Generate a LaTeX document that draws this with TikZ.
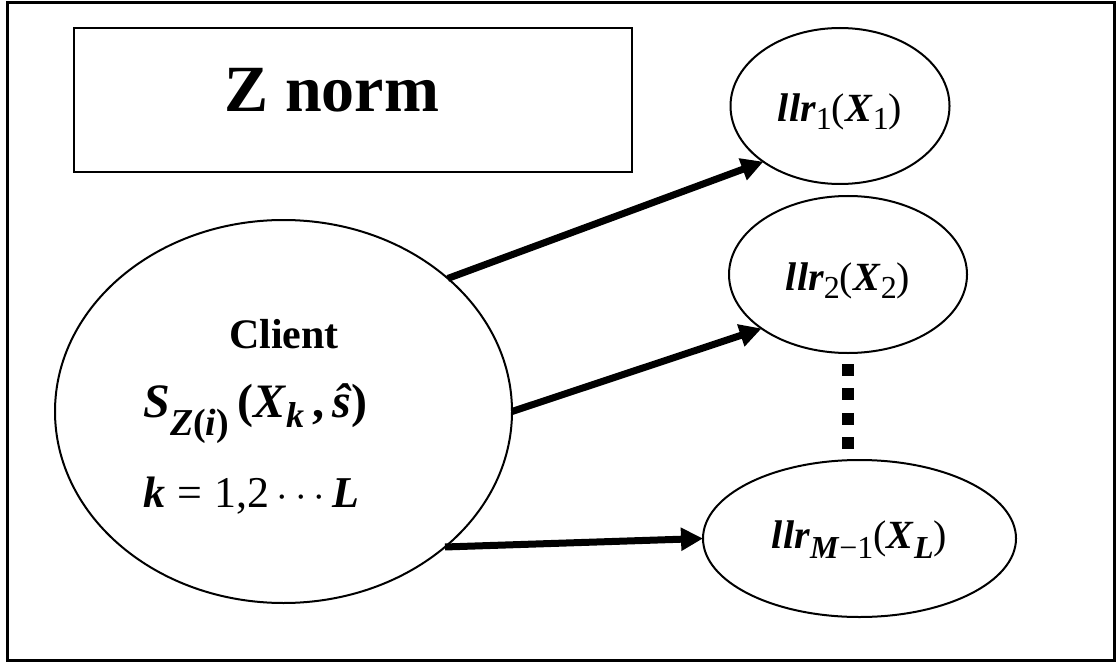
\documentclass[tikz,border=0pt]{standalone}
\usepackage{fontspec}
\setmainfont{Liberation Serif}
\usetikzlibrary{shapes.geometric}
\usetikzlibrary{arrows.meta}

\newcommand{\bi}[1]{\textbf{\textit{#1}}}
% lowered index: drop, size, content
\newcommand{\dn}[3]{\raisebox{-#1}{\fontsize{#2}{#2}\selectfont #3}}

\tikzset{
  bubble/.style={ellipse, draw, line width=1pt, inner sep=0pt, outer sep=0pt,
                 font=\fontsize{20}{24}\selectfont, text depth=0pt},
  flow/.style={-{Triangle[length=11pt,width=11pt]}, line width=3.5pt},
  txt/.style={inner sep=0pt},
}

\begin{document}
\begin{tikzpicture}[x=0.5pt, y=-0.5pt]
    \useasboundingbox (0,0) rectangle (1117,663);
    \draw[line width=1.5pt] (7,3) rectangle (1114,660);

    \node[draw, line width=1.3pt, minimum width=279pt, minimum height=72pt] (znorm) at (353,100) {};
    \node[txt, anchor=base, font=\fontsize{33}{40}\selectfont\bfseries] (ztitle) at (332,112) {Z norm};

    \node[bubble, minimum width=228.5pt, minimum height=191.5pt] (client) at (283.5,411.5) {};
    \node[txt, anchor=base, font=\fontsize{21}{25}\selectfont\bfseries] (ctitle) at (284,348) {Client};
    \node[txt, anchor=base west, font=\fontsize{24}{28}\selectfont] (score) at (143,417)
        {\bi{S}\dn{9pt}{19}{\bi{Z}\textbf{(}\bi{i}\textbf{)}}\,\textbf{(}\bi{X}\dn{5pt}{18}{\bi{k}}\,\textbf{,}\,\bi{ŝ}\textbf{)}};
    \node[txt, anchor=base west, font=\fontsize{22}{26}\selectfont] (range) at (143,507)
        {\bi{k}\;=\;1,2\,$\cdots$\,\bi{L}};

    \node[bubble, text height=16pt, minimum width=109.5pt, minimum height=78pt] (llr1) at (840,106)
        {\bi{llr}\dn{4pt}{16}{1}(\bi{X}\dn{4pt}{16}{1})};
    \node[bubble, text height=16pt, minimum width=119pt, minimum height=78.5pt] (llr2) at (848,274.5)
        {\bi{llr}\dn{4pt}{16}{2}(\bi{X}\dn{4pt}{16}{2})};
    \node[bubble, text height=10pt, minimum width=156.5pt, minimum height=78.5pt] (llrM) at (859.5,538.5)
        {\bi{llr}\dn{5pt}{16}{\bi{M}−1}(\bi{X}\dn{5pt}{16}{\bi{L}})};

    \draw[flow] (client.39.4) -- (llr1.216);
    \draw[flow] (client.0)    -- (llr2.212);
    \draw[flow] (client.-40)  -- (llrM.west);

    % vertical dots between the ratio nodes
    \draw[line width=6pt, dash pattern=on 6pt off 6.2pt, shorten <=5.5pt, shorten >=5.5pt]
        (llr2.south) -- (llr2.south |- llrM.north);
\end{tikzpicture}
\end{document}
